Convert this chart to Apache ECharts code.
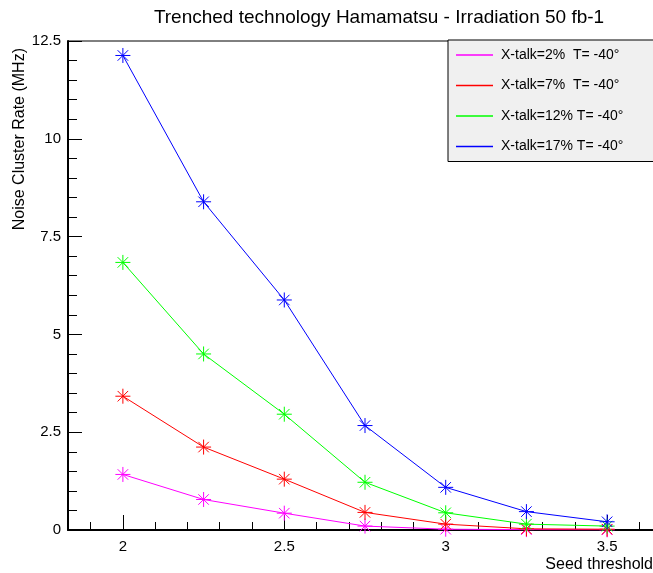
<!DOCTYPE html>
<html>
<head>
<meta charset="utf-8">
<script src="https://cdn.jsdelivr.net/npm/echarts@6/dist/echarts.min.js"></script>
<style>
html,body{margin:0;padding:0;background:#fff;}
#chart{width:653px;height:573px;}
</style>
</head>
<body>
<div id="chart"></div>
<script>
// ---- data ----
var seedThresholds = [2, 2.25, 2.5, 2.75, 3, 3.25, 3.5];
var xtalk2  = [1.42, 0.78, 0.43, 0.10, 0.02, 0.01, 0.005];
var xtalk7  = [3.42, 2.12, 1.30, 0.45, 0.15, 0.03, 0.02];
var xtalk12 = [6.84, 4.50, 2.96, 1.22, 0.44, 0.15, 0.10];
var xtalk17 = [12.13, 8.39, 5.88, 2.67, 1.09, 0.47, 0.21];
var seriesNames = ['X-talk=2%  T= -40°', 'X-talk=7%  T= -40°', 'X-talk=12% T= -40°', 'X-talk=17% T= -40°'];
var seriesColors = ['#ff00ff', '#ff0000', '#00ff00', '#0000ff'];
var xMajorTicks = [2, 2.5, 3, 3.5];
var xMinorTicks = [1.9, 2.0, 2.1, 2.2, 2.3, 2.4, 2.5, 2.6, 2.7, 2.8, 2.9, 3.0, 3.1, 3.2, 3.3, 3.4, 3.5, 3.6];

var allValues = [xtalk2, xtalk7, xtalk12, xtalk17];
var star = 'path://M5,0L5,10M0,5L10,5M1.5,1.5L8.5,8.5M1.5,8.5L8.5,1.5';
var FONT = 'Liberation Sans, Arial, Helvetica, sans-serif';

var series = allValues.map(function (vals, i) {
  return {
    name: seriesNames[i],
    type: 'line',
    data: seedThresholds.map(function (x, j) { return [x, vals[j]]; }),
    symbol: star,
    symbolSize: 15,
    symbolKeepAspect: true,
    showSymbol: true,
    itemStyle: { color: 'none', borderColor: seriesColors[i], borderWidth: 1 },
    lineStyle: { color: seriesColors[i], width: 1 },
    emphasis: { disabled: true },
    animation: false,
    xAxisIndex: 0,
    yAxisIndex: 0
  };
});

var chart = echarts.init(document.getElementById('chart'), null, { renderer: 'canvas' });
chart.setOption({
  animation: false,
  backgroundColor: '#ffffff',
  title: {
    text: 'Trenched technology Hamamatsu - Irradiation 50 fb-1',
    left: 374, top: 3, textAlign: 'center',
    textStyle: { fontFamily: FONT, fontSize: 19, fontWeight: 'normal', color: '#000' }
  },
  grid: {
    left: 68, top: 41, width: 594, height: 489,
    outerBoundsMode: 'none', containLabel: false,
    show: true, borderColor: '#000', borderWidth: 1, backgroundColor: 'transparent'
  },
  legend: {
    orient: 'vertical',
    left: 448, top: 40,
    backgroundColor: '#f0f0f0',
    borderColor: '#000', borderWidth: 1,
    padding: [7, 200, 7, 8],
    itemWidth: 37, itemHeight: 1.5, itemGap: 14.5,
    selectedMode: false,
    textStyle: { fontFamily: FONT, fontSize: 14, color: '#000', lineHeight: 16, padding: [0, 0, 0, 3] },
    data: seriesNames.map(function (n, i) {
      return { name: n, icon: 'rect', itemStyle: { color: seriesColors[i], borderWidth: 0 } };
    })
  },
  xAxis: [{
    type: 'value', min: 1.83, max: 3.67,
    axisLine: { show: true, onZero: false, lineStyle: { color: '#000', width: 2 } },
    axisTick: { show: true, inside: true, length: 15, customValues: xMajorTicks, lineStyle: { color: '#000', width: 1 } },
    axisLabel: { show: true, customValues: xMajorTicks, margin: 9, fontFamily: FONT, fontSize: 15, color: '#000' },
    splitLine: { show: false }
  }, {
    type: 'value', min: 1.83, max: 3.67, position: 'bottom',
    axisLine: { show: false },
    axisTick: { show: true, inside: true, length: 8, customValues: xMinorTicks, lineStyle: { color: '#000', width: 1 } },
    axisLabel: { show: false },
    splitLine: { show: false }
  }],
  yAxis: {
    type: 'value', min: 0, max: 12.5, interval: 2.5,
    axisLine: { show: true, onZero: false, lineStyle: { color: '#000', width: 2 } },
    axisTick: { show: true, inside: true, length: 14, lineStyle: { color: '#000', width: 1 } },
    minorTick: { show: true, splitNumber: 5, length: 9, lineStyle: { color: '#000', width: 1 } },
    axisLabel: { margin: 7, fontFamily: FONT, fontSize: 15, color: '#000' },
    splitLine: { show: false }
  },
  graphic: [{
    type: 'text', x: 20, y: 48, rotation: Math.PI / 2,
    style: { text: 'Noise Cluster Rate (MHz)', fontFamily: FONT, fontSize: 16, fill: '#000', align: 'right', verticalAlign: 'middle' }
  }, {
    type: 'text', x: 653, y: 565,
    style: { text: 'Seed threshold', fontFamily: FONT, fontSize: 16, fill: '#000', align: 'right', verticalAlign: 'middle' }
  }],
  series: series
});
</script>
</body>
</html>
